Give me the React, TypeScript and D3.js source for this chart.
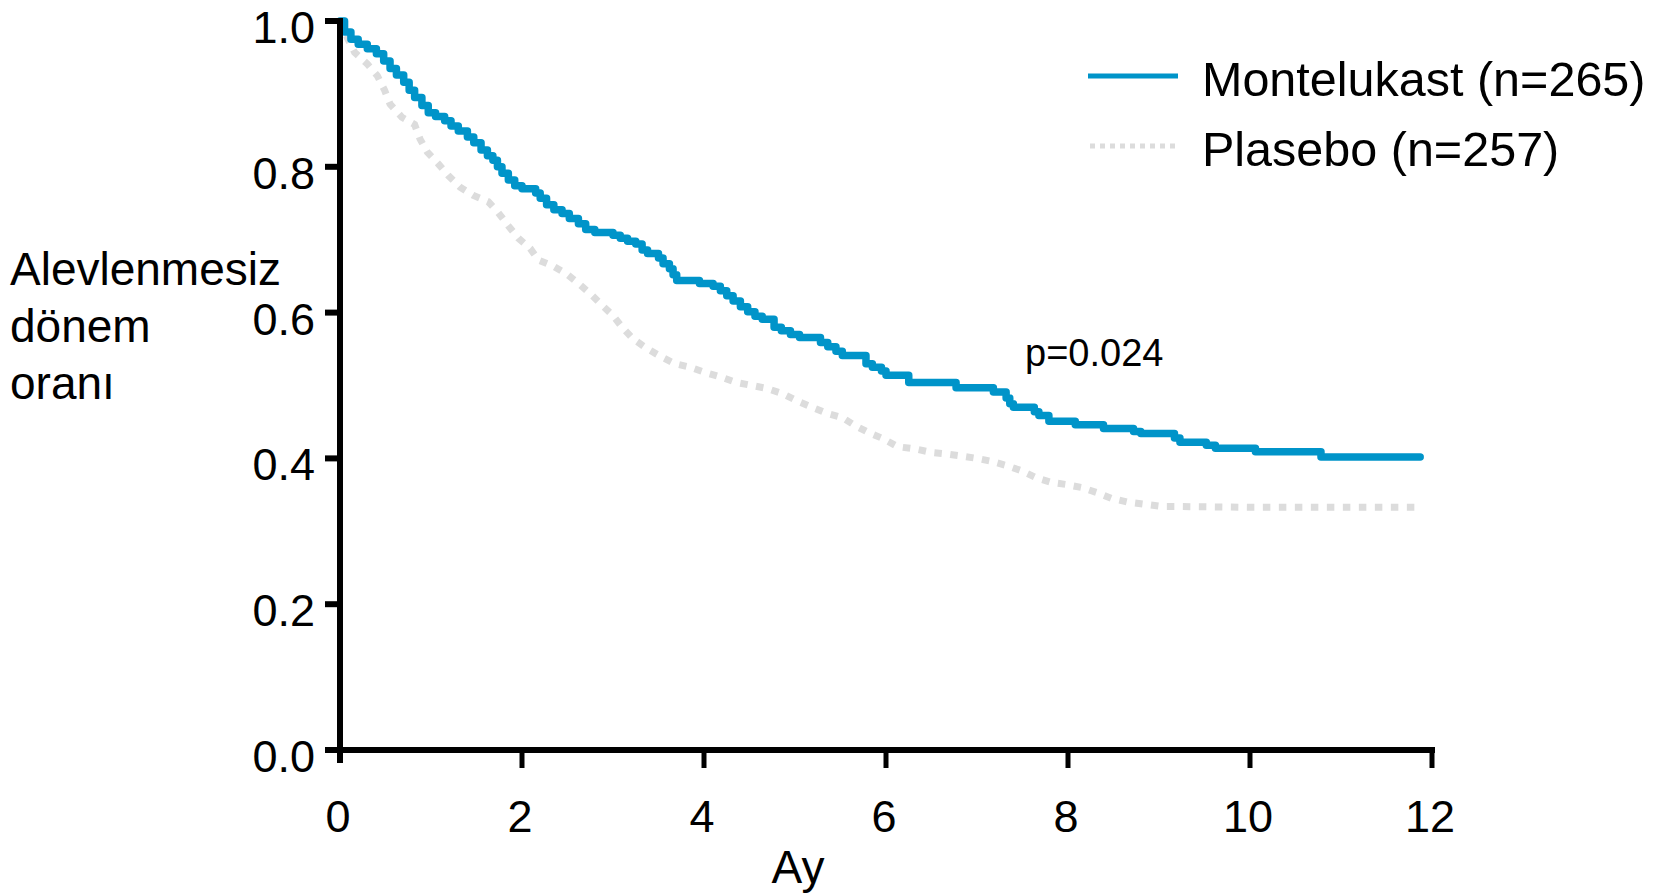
import React from "react";
import * as d3 from "d3";

// Kaplan–Meier estimates: [month, proportion event-free]
const montelukastCurve: [number, number][] = [
  [0, 1.0], [0.05, 0.985], [0.12, 0.975], [0.2, 0.968], [0.3, 0.962], [0.4, 0.955],
  [0.48, 0.945], [0.55, 0.935], [0.62, 0.926], [0.7, 0.916], [0.76, 0.905], [0.82, 0.895],
  [0.9, 0.884], [0.97, 0.874], [1.05, 0.869], [1.15, 0.863], [1.22, 0.856], [1.3, 0.849],
  [1.4, 0.841], [1.47, 0.833], [1.55, 0.823], [1.62, 0.815], [1.68, 0.809], [1.73, 0.8],
  [1.78, 0.791], [1.85, 0.782], [1.92, 0.774], [2.0, 0.77], [2.15, 0.764], [2.2, 0.757],
  [2.27, 0.748], [2.35, 0.741], [2.44, 0.736], [2.52, 0.729], [2.62, 0.722], [2.7, 0.714],
  [2.8, 0.71], [3.0, 0.706], [3.08, 0.702], [3.16, 0.698], [3.25, 0.694], [3.32, 0.686],
  [3.38, 0.681], [3.5, 0.675], [3.55, 0.667], [3.62, 0.66], [3.66, 0.652], [3.7, 0.644],
  [3.95, 0.64], [4.1, 0.636], [4.18, 0.63], [4.25, 0.623], [4.32, 0.616], [4.4, 0.608],
  [4.48, 0.601], [4.56, 0.595], [4.64, 0.591], [4.77, 0.58], [4.85, 0.575], [4.95, 0.57],
  [5.05, 0.566], [5.28, 0.559], [5.36, 0.553], [5.45, 0.547], [5.52, 0.541], [5.78, 0.53],
  [5.85, 0.525], [5.95, 0.52], [6.0, 0.514], [6.25, 0.504], [6.77, 0.497], [7.18, 0.491],
  [7.32, 0.483], [7.36, 0.475], [7.4, 0.47], [7.63, 0.464], [7.68, 0.459], [7.79, 0.451],
  [8.08, 0.446], [8.39, 0.441], [8.72, 0.437], [8.8, 0.434], [9.17, 0.428], [9.23, 0.422],
  [9.52, 0.418], [9.62, 0.414], [10.06, 0.409], [10.78, 0.402], [11.87, 0.402],
];

const placeboCurve: [number, number][] = [
  [0, 1.0], [0.08, 0.977], [0.16, 0.957], [0.3, 0.941], [0.41, 0.925], [0.49, 0.905],
  [0.55, 0.886], [0.68, 0.868], [0.82, 0.858], [0.88, 0.838], [0.96, 0.82], [1.08, 0.804],
  [1.19, 0.788], [1.32, 0.772], [1.46, 0.761], [1.63, 0.752], [1.74, 0.737], [1.85, 0.719],
  [1.96, 0.702], [2.09, 0.688], [2.18, 0.672], [2.34, 0.664], [2.49, 0.653], [2.62, 0.64],
  [2.75, 0.626], [2.88, 0.61], [3.0, 0.596], [3.1, 0.58], [3.22, 0.564], [3.37, 0.551],
  [3.52, 0.54], [3.68, 0.53], [3.85, 0.525], [4.01, 0.518], [4.2, 0.511], [4.36, 0.504],
  [4.53, 0.5], [4.69, 0.496], [4.86, 0.489], [5.02, 0.479], [5.19, 0.47], [5.35, 0.462],
  [5.52, 0.456], [5.66, 0.445], [5.8, 0.436], [5.97, 0.427], [6.13, 0.416], [6.32, 0.413],
  [6.51, 0.408], [6.67, 0.406], [6.84, 0.403], [7.0, 0.4], [7.16, 0.396], [7.33, 0.39],
  [7.49, 0.383], [7.66, 0.373], [7.82, 0.367], [7.99, 0.364], [8.15, 0.36], [8.32, 0.353],
  [8.48, 0.345], [8.66, 0.34], [8.85, 0.337], [9.03, 0.334], [9.2, 0.334], [10.0, 0.333],
  [11.89, 0.333],
];

const xTicks = [0, 2, 4, 6, 8, 10, 12];
const yTicks = [0, 0.2, 0.4, 0.6, 0.8, 1.0];
const yTitleLines = ["Alevlenmesiz", "dönem", "oranı"];
const xTitle = "Ay";
const legendLabels = ["Montelukast (n=265)", "Plasebo (n=257)"];
const pValueText = "p=0.024";

const W = 1667;
const H = 893;
const FONT = "'Liberation Sans', Arial, sans-serif";
const BLUE = "#0094C9";
const GREY = "#DCDCDC";

export default function App() {
  const x = d3.scaleLinear().domain([0, 12]).range([340, 1432]);
  const y = d3.scaleLinear().domain([0, 1]).range([750, 21]);

  const stepLine = d3
    .line<[number, number]>()
    .x((d) => x(d[0]))
    .y((d) => y(d[1]))
    .curve(d3.curveStepAfter);

  const smoothLine = d3
    .line<[number, number]>()
    .x((d) => x(d[0]))
    .y((d) => y(d[1]))
    .curve(d3.curveLinear);

  const x0 = x(0);
  const y0 = y(0);

  return (
    <svg
      width={W}
      height={H}
      viewBox={`0 0 ${W} ${H}`}
      style={{ position: "absolute", left: 0, top: 0, display: "block", background: "#fff" }}
      fontFamily={FONT}
    >
      {/* survival curves */}
      <path
        d={smoothLine(placeboCurve) || ""}
        fill="none"
        stroke={GREY}
        strokeWidth={7}
        strokeDasharray="7.5 8.5"
      />
      <path
        d={stepLine(montelukastCurve) || ""}
        fill="none"
        stroke={BLUE}
        strokeWidth={7.5}
        strokeLinejoin="round"
        strokeLinecap="round"
      />

      {/* y axis */}
      <line x1={x0} x2={x0} y1={y(1) - 3} y2={y0 + 13} stroke="#000" strokeWidth={6} />
      {yTicks.map((t) => (
        <g key={`y${t}`}>
          <line x1={x0 - 15} x2={x0} y1={y(t)} y2={y(t)} stroke="#000" strokeWidth={6} />
          <text x={315} y={y(t) + 22} textAnchor="end" fontSize={45} fill="#000">
            {t.toFixed(1)}
          </text>
        </g>
      ))}

      {/* x axis */}
      <line x1={x0} x2={x(12) + 3} y1={y0} y2={y0} stroke="#000" strokeWidth={6} />
      {xTicks.map((t) => (
        <g key={`x${t}`}>
          <line x1={x(t)} x2={x(t)} y1={y0} y2={y0 + (t === 0 ? 13 : 18)} stroke="#000" strokeWidth={5} />
          <text x={x(t) - 2} y={832} textAnchor="middle" fontSize={45} fill="#000">
            {t}
          </text>
        </g>
      ))}

      {/* axis titles */}
      <text x={798} y={883} textAnchor="middle" fontSize={46} fill="#000">
        {xTitle}
      </text>
      {yTitleLines.map((line, i) => (
        <text key={line} x={10} y={285 + i * 57} fontSize={46} fill="#000">
          {line}
        </text>
      ))}

      {/* p value */}
      <text x={1025} y={366} fontSize={38} fill="#000">
        {pValueText}
      </text>

      {/* legend */}
      <line x1={1088} x2={1178} y1={76} y2={76} stroke={BLUE} strokeWidth={5} />
      <text x={1202} y={96} fontSize={48.5} fill="#000">
        {legendLabels[0]}
      </text>
      <line
        x1={1090}
        x2={1180}
        y1={146}
        y2={146}
        stroke={GREY}
        strokeWidth={5}
        strokeDasharray="5 5"
      />
      <text x={1202} y={166} fontSize={48.5} fill="#000">
        {legendLabels[1]}
      </text>
    </svg>
  );
}
